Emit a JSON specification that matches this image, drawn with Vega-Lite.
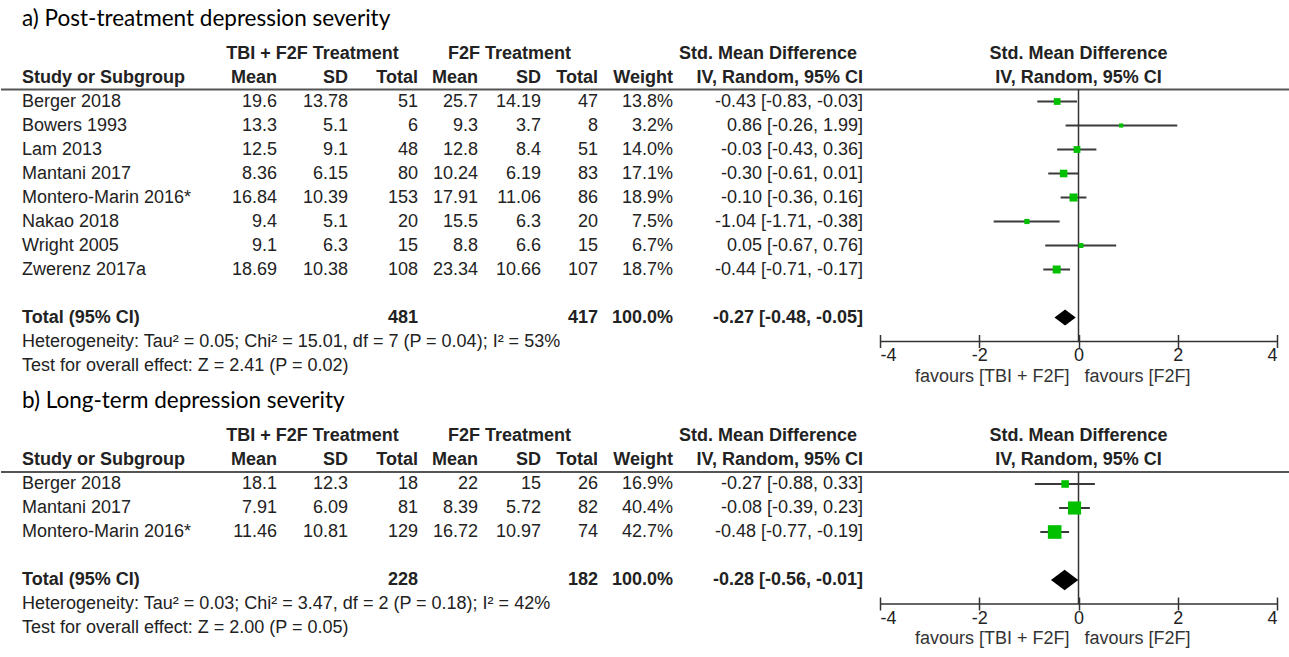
{
  "$schema": "https://vega.github.io/schema/vega-lite/v6.json",
  "background": "white",
  "padding": {"left": 0, "top": 7.5, "right": 0, "bottom": 0},
  "config": {
    "view": {"stroke": null},
    "locale": {"number": {"decimal": ".", "thousands": ",", "grouping": [3], "currency": ["$", ""], "minus": "-"}},
    "text": {"font": "Liberation Sans", "fontSize": 18, "color": "#222", "baseline": "middle"}
  },
  "datasets": {
    "postTreatment": [
      {"study": "Berger 2018", "m1": 19.6, "sd1": 13.78, "n1": 51, "m2": 25.7, "sd2": 14.19, "n2": 47, "weight": 13.8, "smd": -0.43, "lo": -0.83, "hi": -0.03},
      {"study": "Bowers 1993", "m1": 13.3, "sd1": 5.1, "n1": 6, "m2": 9.3, "sd2": 3.7, "n2": 8, "weight": 3.2, "smd": 0.86, "lo": -0.26, "hi": 1.99},
      {"study": "Lam 2013", "m1": 12.5, "sd1": 9.1, "n1": 48, "m2": 12.8, "sd2": 8.4, "n2": 51, "weight": 14.0, "smd": -0.03, "lo": -0.43, "hi": 0.36},
      {"study": "Mantani 2017", "m1": 8.36, "sd1": 6.15, "n1": 80, "m2": 10.24, "sd2": 6.19, "n2": 83, "weight": 17.1, "smd": -0.30, "lo": -0.61, "hi": 0.01},
      {"study": "Montero-Marin 2016*", "m1": 16.84, "sd1": 10.39, "n1": 153, "m2": 17.91, "sd2": 11.06, "n2": 86, "weight": 18.9, "smd": -0.10, "lo": -0.36, "hi": 0.16},
      {"study": "Nakao 2018", "m1": 9.4, "sd1": 5.1, "n1": 20, "m2": 15.5, "sd2": 6.3, "n2": 20, "weight": 7.5, "smd": -1.04, "lo": -1.71, "hi": -0.38},
      {"study": "Wright 2005", "m1": 9.1, "sd1": 6.3, "n1": 15, "m2": 8.8, "sd2": 6.6, "n2": 15, "weight": 6.7, "smd": 0.05, "lo": -0.67, "hi": 0.76},
      {"study": "Zwerenz 2017a", "m1": 18.69, "sd1": 10.38, "n1": 108, "m2": 23.34, "sd2": 10.66, "n2": 107, "weight": 18.7, "smd": -0.44, "lo": -0.71, "hi": -0.17}
    ],
    "postTreatmentTotal": [
      {"study": "Total (95% CI)", "n1": 481, "n2": 417, "weight": 100, "smd": -0.27, "lo": -0.48, "hi": -0.05,
       "heterogeneity": "Heterogeneity: Tau² = 0.05; Chi² = 15.01, df = 7 (P = 0.04); I² = 53%",
       "overall": "Test for overall effect: Z = 2.41 (P = 0.02)"}
    ],
    "longTerm": [
      {"study": "Berger 2018", "m1": 18.1, "sd1": 12.3, "n1": 18, "m2": 22, "sd2": 15, "n2": 26, "weight": 16.9, "smd": -0.27, "lo": -0.88, "hi": 0.33},
      {"study": "Mantani 2017", "m1": 7.91, "sd1": 6.09, "n1": 81, "m2": 8.39, "sd2": 5.72, "n2": 82, "weight": 40.4, "smd": -0.08, "lo": -0.39, "hi": 0.23},
      {"study": "Montero-Marin 2016*", "m1": 11.46, "sd1": 10.81, "n1": 129, "m2": 16.72, "sd2": 10.97, "n2": 74, "weight": 42.7, "smd": -0.48, "lo": -0.77, "hi": -0.19}
    ],
    "longTermTotal": [
      {"study": "Total (95% CI)", "n1": 228, "n2": 182, "weight": 100, "smd": -0.28, "lo": -0.56, "hi": -0.01,
       "heterogeneity": "Heterogeneity: Tau² = 0.03; Chi² = 3.47, df = 2 (P = 0.18); I² = 42%",
       "overall": "Test for overall effect: Z = 2.00 (P = 0.05)"}
    ]
  },
  "bounds": "full",
  "spacing": 4.5,
  "resolve": {"scale": {"x": "independent", "y": "independent", "size": "independent"}},
  "vconcat": [
    {
      "bounds": "flush",
      "spacing": 0,
      "resolve": {"scale": {"y": "shared"}},
      "hconcat": [
        {
          "width": 200, "height": 312,
          "data": {"name": "postTreatment"},
          "encoding": {"y": {"field": "study", "type": "nominal", "axis": null,
            "scale": {"type": "point", "padding": 0, "domain": ["hdr1", "hdr2", "Berger 2018", "Bowers 1993", "Lam 2013", "Mantani 2017", "Montero-Marin 2016*", "Nakao 2018", "Wright 2005", "Zwerenz 2017a", "gap", "Total (95% CI)", "Heterogeneity", "Overall effect"]}}},
          "layer": [
            {"data": {"name": "postTreatmentTotal"}, "mark": {"type": "text", "align": "left", "dx": 21, "dy": -35, "font": "Lato", "fontSize": 22.5, "color": "#000"},
             "encoding": {"x": {"value": 0}, "y": {"datum": "hdr1", "type": "nominal"}, "text": {"value": "a) Post-treatment depression severity"}}},
            {"data": {"name": "postTreatmentTotal"}, "mark": {"type": "text", "align": "left", "dx": 21, "fontWeight": "bold"},
             "encoding": {"x": {"value": 0}, "y": {"datum": "hdr2", "type": "nominal"}, "text": {"value": "Study or Subgroup"}}},
            {"data": {"name": "postTreatmentTotal"}, "mark": {"type": "rule", "color": "#555", "strokeWidth": 2, "yOffset": 12},
             "encoding": {"x": {"value": 0}, "x2": {"value": "width"}, "y": {"datum": "hdr2", "type": "nominal"}}},
            {"mark": {"type": "text", "align": "left", "dx": 21},
             "encoding": {"x": {"value": 0}, "text": {"field": "study"}}},
            {"data": {"name": "postTreatmentTotal"}, "mark": {"type": "text", "align": "left", "dx": 21, "fontWeight": "bold"},
             "encoding": {"x": {"value": 0}, "text": {"field": "study"}}},
            {"data": {"name": "postTreatmentTotal"}, "mark": {"type": "text", "align": "left", "dx": 21},
             "encoding": {"x": {"value": 0}, "y": {"datum": "Heterogeneity", "type": "nominal"}, "text": {"field": "heterogeneity"}}},
            {"data": {"name": "postTreatmentTotal"}, "mark": {"type": "text", "align": "left", "dx": 21},
             "encoding": {"x": {"value": 0}, "y": {"datum": "Overall effect", "type": "nominal"}, "text": {"field": "overall"}}}
          ]
        },
        {
          "width": 76, "height": 312,
          "data": {"name": "postTreatment"},
          "encoding": {"y": {"field": "study", "type": "nominal", "axis": null}},
          "layer": [
            {"data": {"name": "postTreatmentTotal"}, "mark": {"type": "text", "align": "right", "fontWeight": "bold"},
             "encoding": {"x": {"value": "width"}, "y": {"datum": "hdr2", "type": "nominal"}, "text": {"value": "Mean"}}},
            {"data": {"name": "postTreatmentTotal"}, "mark": {"type": "rule", "color": "#555", "strokeWidth": 2, "yOffset": 12},
             "encoding": {"x": {"value": 0}, "x2": {"value": "width"}, "y": {"datum": "hdr2", "type": "nominal"}}},
            {"mark": {"type": "text", "align": "right"},
             "encoding": {"x": {"value": "width"}, "text": {"field": "m1", "type": "quantitative"}}}
          ]
        },
        {
          "width": 71, "height": 312,
          "data": {"name": "postTreatment"},
          "encoding": {"y": {"field": "study", "type": "nominal", "axis": null}},
          "layer": [
            {"data": {"name": "postTreatmentTotal"}, "mark": {"type": "text", "align": "center", "fontWeight": "bold"},
             "encoding": {"y": {"datum": "hdr1", "type": "nominal"}, "text": {"value": "TBI + F2F Treatment"}}},
            {"data": {"name": "postTreatmentTotal"}, "mark": {"type": "text", "align": "right", "fontWeight": "bold"},
             "encoding": {"x": {"value": "width"}, "y": {"datum": "hdr2", "type": "nominal"}, "text": {"value": "SD"}}},
            {"data": {"name": "postTreatmentTotal"}, "mark": {"type": "rule", "color": "#555", "strokeWidth": 2, "yOffset": 12},
             "encoding": {"x": {"value": 0}, "x2": {"value": "width"}, "y": {"datum": "hdr2", "type": "nominal"}}},
            {"mark": {"type": "text", "align": "right"},
             "encoding": {"x": {"value": "width"}, "text": {"field": "sd1", "type": "quantitative"}}}
          ]
        },
        {
          "width": 70, "height": 312,
          "data": {"name": "postTreatment"},
          "encoding": {"y": {"field": "study", "type": "nominal", "axis": null}},
          "layer": [
            {"data": {"name": "postTreatmentTotal"}, "mark": {"type": "text", "align": "right", "fontWeight": "bold"},
             "encoding": {"x": {"value": "width"}, "y": {"datum": "hdr2", "type": "nominal"}, "text": {"value": "Total"}}},
            {"data": {"name": "postTreatmentTotal"}, "mark": {"type": "rule", "color": "#555", "strokeWidth": 2, "yOffset": 12},
             "encoding": {"x": {"value": 0}, "x2": {"value": "width"}, "y": {"datum": "hdr2", "type": "nominal"}}},
            {"mark": {"type": "text", "align": "right"},
             "encoding": {"x": {"value": "width"}, "text": {"field": "n1", "type": "quantitative"}}},
            {"data": {"name": "postTreatmentTotal"}, "mark": {"type": "text", "align": "right", "fontWeight": "bold"},
             "encoding": {"x": {"value": "width"}, "text": {"field": "n1", "type": "quantitative"}}}
          ]
        },
        {
          "width": 60, "height": 312,
          "data": {"name": "postTreatment"},
          "encoding": {"y": {"field": "study", "type": "nominal", "axis": null}},
          "layer": [
            {"data": {"name": "postTreatmentTotal"}, "mark": {"type": "text", "align": "right", "fontWeight": "bold"},
             "encoding": {"x": {"value": "width"}, "y": {"datum": "hdr2", "type": "nominal"}, "text": {"value": "Mean"}}},
            {"data": {"name": "postTreatmentTotal"}, "mark": {"type": "rule", "color": "#555", "strokeWidth": 2, "yOffset": 12},
             "encoding": {"x": {"value": 0}, "x2": {"value": "width"}, "y": {"datum": "hdr2", "type": "nominal"}}},
            {"mark": {"type": "text", "align": "right"},
             "encoding": {"x": {"value": "width"}, "text": {"field": "m2", "type": "quantitative"}}}
          ]
        },
        {
          "width": 63, "height": 312,
          "data": {"name": "postTreatment"},
          "encoding": {"y": {"field": "study", "type": "nominal", "axis": null}},
          "layer": [
            {"data": {"name": "postTreatmentTotal"}, "mark": {"type": "text", "align": "center", "fontWeight": "bold"},
             "encoding": {"y": {"datum": "hdr1", "type": "nominal"}, "text": {"value": "F2F Treatment"}}},
            {"data": {"name": "postTreatmentTotal"}, "mark": {"type": "text", "align": "right", "fontWeight": "bold"},
             "encoding": {"x": {"value": "width"}, "y": {"datum": "hdr2", "type": "nominal"}, "text": {"value": "SD"}}},
            {"data": {"name": "postTreatmentTotal"}, "mark": {"type": "rule", "color": "#555", "strokeWidth": 2, "yOffset": 12},
             "encoding": {"x": {"value": 0}, "x2": {"value": "width"}, "y": {"datum": "hdr2", "type": "nominal"}}},
            {"mark": {"type": "text", "align": "right"},
             "encoding": {"x": {"value": "width"}, "text": {"field": "sd2", "type": "quantitative"}}}
          ]
        },
        {
          "width": 57, "height": 312,
          "data": {"name": "postTreatment"},
          "encoding": {"y": {"field": "study", "type": "nominal", "axis": null}},
          "layer": [
            {"data": {"name": "postTreatmentTotal"}, "mark": {"type": "text", "align": "right", "fontWeight": "bold"},
             "encoding": {"x": {"value": "width"}, "y": {"datum": "hdr2", "type": "nominal"}, "text": {"value": "Total"}}},
            {"data": {"name": "postTreatmentTotal"}, "mark": {"type": "rule", "color": "#555", "strokeWidth": 2, "yOffset": 12},
             "encoding": {"x": {"value": 0}, "x2": {"value": "width"}, "y": {"datum": "hdr2", "type": "nominal"}}},
            {"mark": {"type": "text", "align": "right"},
             "encoding": {"x": {"value": "width"}, "text": {"field": "n2", "type": "quantitative"}}},
            {"data": {"name": "postTreatmentTotal"}, "mark": {"type": "text", "align": "right", "fontWeight": "bold"},
             "encoding": {"x": {"value": "width"}, "text": {"field": "n2", "type": "quantitative"}}}
          ]
        },
        {
          "width": 75, "height": 312,
          "data": {"name": "postTreatment"},
          "encoding": {"y": {"field": "study", "type": "nominal", "axis": null}},
          "layer": [
            {"data": {"name": "postTreatmentTotal"}, "mark": {"type": "text", "align": "right", "fontWeight": "bold"},
             "encoding": {"x": {"value": "width"}, "y": {"datum": "hdr2", "type": "nominal"}, "text": {"value": "Weight"}}},
            {"data": {"name": "postTreatmentTotal"}, "mark": {"type": "rule", "color": "#555", "strokeWidth": 2, "yOffset": 12},
             "encoding": {"x": {"value": 0}, "x2": {"value": "width"}, "y": {"datum": "hdr2", "type": "nominal"}}},
            {"transform": [{"calculate": "format(datum.weight, '.1f') + '%'", "as": "weightLabel"}],
             "mark": {"type": "text", "align": "right"},
             "encoding": {"x": {"value": "width"}, "text": {"field": "weightLabel"}}},
            {"data": {"name": "postTreatmentTotal"},
             "transform": [{"calculate": "format(datum.weight, '.1f') + '%'", "as": "weightLabel"}],
             "mark": {"type": "text", "align": "right", "fontWeight": "bold"},
             "encoding": {"x": {"value": "width"}, "text": {"field": "weightLabel"}}}
          ]
        },
        {
          "width": 190, "height": 312,
          "data": {"name": "postTreatment"},
          "encoding": {"y": {"field": "study", "type": "nominal", "axis": null}},
          "layer": [
            {"data": {"name": "postTreatmentTotal"}, "mark": {"type": "text", "align": "center", "fontWeight": "bold"},
             "encoding": {"y": {"datum": "hdr1", "type": "nominal"}, "text": {"value": "Std. Mean Difference"}}},
            {"data": {"name": "postTreatmentTotal"}, "mark": {"type": "text", "align": "right", "fontWeight": "bold"},
             "encoding": {"x": {"value": "width"}, "y": {"datum": "hdr2", "type": "nominal"}, "text": {"value": "IV, Random, 95% CI"}}},
            {"data": {"name": "postTreatmentTotal"}, "mark": {"type": "rule", "color": "#555", "strokeWidth": 2, "yOffset": 12},
             "encoding": {"x": {"value": 0}, "x2": {"value": "width"}, "y": {"datum": "hdr2", "type": "nominal"}}},
            {"transform": [{"calculate": "format(datum.smd, '.2f') + ' [' + format(datum.lo, '.2f') + ', ' + format(datum.hi, '.2f') + ']'", "as": "ciLabel"}],
             "mark": {"type": "text", "align": "right"},
             "encoding": {"x": {"value": "width"}, "text": {"field": "ciLabel"}}},
            {"data": {"name": "postTreatmentTotal"},
             "transform": [{"calculate": "format(datum.smd, '.2f') + ' [' + format(datum.lo, '.2f') + ', ' + format(datum.hi, '.2f') + ']'", "as": "ciLabel"}],
             "mark": {"type": "text", "align": "right", "fontWeight": "bold"},
             "encoding": {"x": {"value": "width"}, "text": {"field": "ciLabel"}}}
          ]
        },
        {
          "width": 17, "height": 312,
          "data": {"name": "postTreatmentTotal"},
          "mark": {"type": "rule", "color": "#555", "strokeWidth": 2, "yOffset": 12},
          "encoding": {"x": {"value": 0}, "x2": {"value": "width"}, "y": {"datum": "hdr2", "type": "nominal", "axis": null}}
        },
        {
          "width": 397, "height": 312,
          "data": {"name": "postTreatment"},
          "encoding": {"y": {"field": "study", "type": "nominal", "axis": null}},
          "layer": [
            {"data": {"name": "postTreatmentTotal"}, "mark": {"type": "text", "align": "center", "fontWeight": "bold"},
             "encoding": {"y": {"datum": "hdr1", "type": "nominal"}, "text": {"value": "Std. Mean Difference"}}},
            {"data": {"name": "postTreatmentTotal"}, "mark": {"type": "text", "align": "center", "fontWeight": "bold"},
             "encoding": {"y": {"datum": "hdr2", "type": "nominal"}, "text": {"value": "IV, Random, 95% CI"}}},
            {"data": {"name": "postTreatmentTotal"}, "mark": {"type": "rule", "color": "#555", "strokeWidth": 2, "yOffset": 12},
             "encoding": {"x": {"value": 0}, "x2": {"value": "width"}, "y": {"datum": "hdr2", "type": "nominal"}}},
            {"mark": {"type": "rule", "color": "#3a3a3a", "strokeWidth": 2},
             "encoding": {
               "x": {"field": "lo", "type": "quantitative",
                     "scale": {"domain": [-4, 4], "nice": false, "zero": false},
                     "axis": {"values": [-4, -2, 0, 2, 4], "domain": false, "grid": false, "title": null,
                              "tickSize": 13, "tickWidth": 1.5, "tickColor": "#333", "offset": -31,
                              "labelFont": "Liberation Sans", "labelFontSize": 18, "labelColor": "#222",
                              "labelPadding": -1, "labelFlush": true}},
               "x2": {"field": "hi"}}},
            {"data": {"name": "postTreatmentTotal"}, "mark": {"type": "rule", "color": "#333", "strokeWidth": 1.5, "yOffset": 12},
             "encoding": {"x": {"datum": 0}, "y": {"datum": "hdr2", "type": "nominal"}, "y2": {"datum": "Heterogeneity"}}},
            {"data": {"name": "postTreatmentTotal"}, "mark": {"type": "rule", "color": "#333", "strokeWidth": 1.5},
             "encoding": {"x": {"datum": -4}, "x2": {"datum": 4}, "y": {"datum": "Heterogeneity", "type": "nominal"}}},
            {"mark": {"type": "square", "filled": true, "color": "#00c000", "opacity": 1},
             "encoding": {"x": {"field": "smd", "type": "quantitative"},
                          "size": {"field": "weight", "type": "quantitative", "legend": null,
                                   "scale": {"type": "pow", "exponent": 1.5, "domain": [0, 45], "range": [14, 200]}}}},
            {"data": {"name": "postTreatmentTotal"},
             "mark": {"type": "point", "shape": "M-1,0L0,-0.75L1,0L0,0.75Z", "filled": true, "color": "#000", "opacity": 1, "size": 454},
             "encoding": {"x": {"field": "smd", "type": "quantitative"}}},
            {"data": {"name": "postTreatmentTotal"}, "mark": {"type": "text", "align": "right", "dx": -9, "dy": 35, "color": "#333"},
             "encoding": {"x": {"datum": 0}, "y": {"datum": "Heterogeneity", "type": "nominal"}, "text": {"value": "favours [TBI + F2F]"}}},
            {"data": {"name": "postTreatmentTotal"}, "mark": {"type": "text", "align": "left", "dx": 6, "dy": 35, "color": "#333"},
             "encoding": {"x": {"datum": 0}, "y": {"datum": "Heterogeneity", "type": "nominal"}, "text": {"value": "favours [F2F]"}}}
          ]
        },
        {
          "width": 13, "height": 312,
          "data": {"name": "postTreatmentTotal"},
          "mark": {"type": "rule", "color": "#555", "strokeWidth": 2, "yOffset": 12},
          "encoding": {"x": {"value": 0}, "x2": {"value": "width"}, "y": {"datum": "hdr2", "type": "nominal", "axis": null}}
        }
      ]
    },
    {
      "bounds": "flush",
      "spacing": 0,
      "resolve": {"scale": {"y": "shared"}},
      "hconcat": [
        {
          "width": 200, "height": 192,
          "data": {"name": "longTerm"},
          "encoding": {"y": {"field": "study", "type": "nominal", "axis": null,
            "scale": {"type": "point", "padding": 0, "domain": ["hdr1", "hdr2", "Berger 2018", "Mantani 2017", "Montero-Marin 2016*", "gap", "Total (95% CI)", "Heterogeneity", "Overall effect"]}}},
          "layer": [
            {"data": {"name": "longTermTotal"}, "mark": {"type": "text", "align": "left", "dx": 21, "dy": -35, "font": "Lato", "fontSize": 22.5, "color": "#000"},
             "encoding": {"x": {"value": 0}, "y": {"datum": "hdr1", "type": "nominal"}, "text": {"value": "b) Long-term depression severity"}}},
            {"data": {"name": "longTermTotal"}, "mark": {"type": "text", "align": "left", "dx": 21, "fontWeight": "bold"},
             "encoding": {"x": {"value": 0}, "y": {"datum": "hdr2", "type": "nominal"}, "text": {"value": "Study or Subgroup"}}},
            {"data": {"name": "longTermTotal"}, "mark": {"type": "rule", "color": "#555", "strokeWidth": 2, "yOffset": 12},
             "encoding": {"x": {"value": 0}, "x2": {"value": "width"}, "y": {"datum": "hdr2", "type": "nominal"}}},
            {"mark": {"type": "text", "align": "left", "dx": 21},
             "encoding": {"x": {"value": 0}, "text": {"field": "study"}}},
            {"data": {"name": "longTermTotal"}, "mark": {"type": "text", "align": "left", "dx": 21, "fontWeight": "bold"},
             "encoding": {"x": {"value": 0}, "text": {"field": "study"}}},
            {"data": {"name": "longTermTotal"}, "mark": {"type": "text", "align": "left", "dx": 21},
             "encoding": {"x": {"value": 0}, "y": {"datum": "Heterogeneity", "type": "nominal"}, "text": {"field": "heterogeneity"}}},
            {"data": {"name": "longTermTotal"}, "mark": {"type": "text", "align": "left", "dx": 21},
             "encoding": {"x": {"value": 0}, "y": {"datum": "Overall effect", "type": "nominal"}, "text": {"field": "overall"}}}
          ]
        },
        {
          "width": 76, "height": 192,
          "data": {"name": "longTerm"},
          "encoding": {"y": {"field": "study", "type": "nominal", "axis": null}},
          "layer": [
            {"data": {"name": "longTermTotal"}, "mark": {"type": "text", "align": "right", "fontWeight": "bold"},
             "encoding": {"x": {"value": "width"}, "y": {"datum": "hdr2", "type": "nominal"}, "text": {"value": "Mean"}}},
            {"data": {"name": "longTermTotal"}, "mark": {"type": "rule", "color": "#555", "strokeWidth": 2, "yOffset": 12},
             "encoding": {"x": {"value": 0}, "x2": {"value": "width"}, "y": {"datum": "hdr2", "type": "nominal"}}},
            {"mark": {"type": "text", "align": "right"},
             "encoding": {"x": {"value": "width"}, "text": {"field": "m1", "type": "quantitative"}}}
          ]
        },
        {
          "width": 71, "height": 192,
          "data": {"name": "longTerm"},
          "encoding": {"y": {"field": "study", "type": "nominal", "axis": null}},
          "layer": [
            {"data": {"name": "longTermTotal"}, "mark": {"type": "text", "align": "center", "fontWeight": "bold"},
             "encoding": {"y": {"datum": "hdr1", "type": "nominal"}, "text": {"value": "TBI + F2F Treatment"}}},
            {"data": {"name": "longTermTotal"}, "mark": {"type": "text", "align": "right", "fontWeight": "bold"},
             "encoding": {"x": {"value": "width"}, "y": {"datum": "hdr2", "type": "nominal"}, "text": {"value": "SD"}}},
            {"data": {"name": "longTermTotal"}, "mark": {"type": "rule", "color": "#555", "strokeWidth": 2, "yOffset": 12},
             "encoding": {"x": {"value": 0}, "x2": {"value": "width"}, "y": {"datum": "hdr2", "type": "nominal"}}},
            {"mark": {"type": "text", "align": "right"},
             "encoding": {"x": {"value": "width"}, "text": {"field": "sd1", "type": "quantitative"}}}
          ]
        },
        {
          "width": 70, "height": 192,
          "data": {"name": "longTerm"},
          "encoding": {"y": {"field": "study", "type": "nominal", "axis": null}},
          "layer": [
            {"data": {"name": "longTermTotal"}, "mark": {"type": "text", "align": "right", "fontWeight": "bold"},
             "encoding": {"x": {"value": "width"}, "y": {"datum": "hdr2", "type": "nominal"}, "text": {"value": "Total"}}},
            {"data": {"name": "longTermTotal"}, "mark": {"type": "rule", "color": "#555", "strokeWidth": 2, "yOffset": 12},
             "encoding": {"x": {"value": 0}, "x2": {"value": "width"}, "y": {"datum": "hdr2", "type": "nominal"}}},
            {"mark": {"type": "text", "align": "right"},
             "encoding": {"x": {"value": "width"}, "text": {"field": "n1", "type": "quantitative"}}},
            {"data": {"name": "longTermTotal"}, "mark": {"type": "text", "align": "right", "fontWeight": "bold"},
             "encoding": {"x": {"value": "width"}, "text": {"field": "n1", "type": "quantitative"}}}
          ]
        },
        {
          "width": 60, "height": 192,
          "data": {"name": "longTerm"},
          "encoding": {"y": {"field": "study", "type": "nominal", "axis": null}},
          "layer": [
            {"data": {"name": "longTermTotal"}, "mark": {"type": "text", "align": "right", "fontWeight": "bold"},
             "encoding": {"x": {"value": "width"}, "y": {"datum": "hdr2", "type": "nominal"}, "text": {"value": "Mean"}}},
            {"data": {"name": "longTermTotal"}, "mark": {"type": "rule", "color": "#555", "strokeWidth": 2, "yOffset": 12},
             "encoding": {"x": {"value": 0}, "x2": {"value": "width"}, "y": {"datum": "hdr2", "type": "nominal"}}},
            {"mark": {"type": "text", "align": "right"},
             "encoding": {"x": {"value": "width"}, "text": {"field": "m2", "type": "quantitative"}}}
          ]
        },
        {
          "width": 63, "height": 192,
          "data": {"name": "longTerm"},
          "encoding": {"y": {"field": "study", "type": "nominal", "axis": null}},
          "layer": [
            {"data": {"name": "longTermTotal"}, "mark": {"type": "text", "align": "center", "fontWeight": "bold"},
             "encoding": {"y": {"datum": "hdr1", "type": "nominal"}, "text": {"value": "F2F Treatment"}}},
            {"data": {"name": "longTermTotal"}, "mark": {"type": "text", "align": "right", "fontWeight": "bold"},
             "encoding": {"x": {"value": "width"}, "y": {"datum": "hdr2", "type": "nominal"}, "text": {"value": "SD"}}},
            {"data": {"name": "longTermTotal"}, "mark": {"type": "rule", "color": "#555", "strokeWidth": 2, "yOffset": 12},
             "encoding": {"x": {"value": 0}, "x2": {"value": "width"}, "y": {"datum": "hdr2", "type": "nominal"}}},
            {"mark": {"type": "text", "align": "right"},
             "encoding": {"x": {"value": "width"}, "text": {"field": "sd2", "type": "quantitative"}}}
          ]
        },
        {
          "width": 57, "height": 192,
          "data": {"name": "longTerm"},
          "encoding": {"y": {"field": "study", "type": "nominal", "axis": null}},
          "layer": [
            {"data": {"name": "longTermTotal"}, "mark": {"type": "text", "align": "right", "fontWeight": "bold"},
             "encoding": {"x": {"value": "width"}, "y": {"datum": "hdr2", "type": "nominal"}, "text": {"value": "Total"}}},
            {"data": {"name": "longTermTotal"}, "mark": {"type": "rule", "color": "#555", "strokeWidth": 2, "yOffset": 12},
             "encoding": {"x": {"value": 0}, "x2": {"value": "width"}, "y": {"datum": "hdr2", "type": "nominal"}}},
            {"mark": {"type": "text", "align": "right"},
             "encoding": {"x": {"value": "width"}, "text": {"field": "n2", "type": "quantitative"}}},
            {"data": {"name": "longTermTotal"}, "mark": {"type": "text", "align": "right", "fontWeight": "bold"},
             "encoding": {"x": {"value": "width"}, "text": {"field": "n2", "type": "quantitative"}}}
          ]
        },
        {
          "width": 75, "height": 192,
          "data": {"name": "longTerm"},
          "encoding": {"y": {"field": "study", "type": "nominal", "axis": null}},
          "layer": [
            {"data": {"name": "longTermTotal"}, "mark": {"type": "text", "align": "right", "fontWeight": "bold"},
             "encoding": {"x": {"value": "width"}, "y": {"datum": "hdr2", "type": "nominal"}, "text": {"value": "Weight"}}},
            {"data": {"name": "longTermTotal"}, "mark": {"type": "rule", "color": "#555", "strokeWidth": 2, "yOffset": 12},
             "encoding": {"x": {"value": 0}, "x2": {"value": "width"}, "y": {"datum": "hdr2", "type": "nominal"}}},
            {"transform": [{"calculate": "format(datum.weight, '.1f') + '%'", "as": "weightLabel"}],
             "mark": {"type": "text", "align": "right"},
             "encoding": {"x": {"value": "width"}, "text": {"field": "weightLabel"}}},
            {"data": {"name": "longTermTotal"},
             "transform": [{"calculate": "format(datum.weight, '.1f') + '%'", "as": "weightLabel"}],
             "mark": {"type": "text", "align": "right", "fontWeight": "bold"},
             "encoding": {"x": {"value": "width"}, "text": {"field": "weightLabel"}}}
          ]
        },
        {
          "width": 190, "height": 192,
          "data": {"name": "longTerm"},
          "encoding": {"y": {"field": "study", "type": "nominal", "axis": null}},
          "layer": [
            {"data": {"name": "longTermTotal"}, "mark": {"type": "text", "align": "center", "fontWeight": "bold"},
             "encoding": {"y": {"datum": "hdr1", "type": "nominal"}, "text": {"value": "Std. Mean Difference"}}},
            {"data": {"name": "longTermTotal"}, "mark": {"type": "text", "align": "right", "fontWeight": "bold"},
             "encoding": {"x": {"value": "width"}, "y": {"datum": "hdr2", "type": "nominal"}, "text": {"value": "IV, Random, 95% CI"}}},
            {"data": {"name": "longTermTotal"}, "mark": {"type": "rule", "color": "#555", "strokeWidth": 2, "yOffset": 12},
             "encoding": {"x": {"value": 0}, "x2": {"value": "width"}, "y": {"datum": "hdr2", "type": "nominal"}}},
            {"transform": [{"calculate": "format(datum.smd, '.2f') + ' [' + format(datum.lo, '.2f') + ', ' + format(datum.hi, '.2f') + ']'", "as": "ciLabel"}],
             "mark": {"type": "text", "align": "right"},
             "encoding": {"x": {"value": "width"}, "text": {"field": "ciLabel"}}},
            {"data": {"name": "longTermTotal"},
             "transform": [{"calculate": "format(datum.smd, '.2f') + ' [' + format(datum.lo, '.2f') + ', ' + format(datum.hi, '.2f') + ']'", "as": "ciLabel"}],
             "mark": {"type": "text", "align": "right", "fontWeight": "bold"},
             "encoding": {"x": {"value": "width"}, "text": {"field": "ciLabel"}}}
          ]
        },
        {
          "width": 17, "height": 192,
          "data": {"name": "longTermTotal"},
          "mark": {"type": "rule", "color": "#555", "strokeWidth": 2, "yOffset": 12},
          "encoding": {"x": {"value": 0}, "x2": {"value": "width"}, "y": {"datum": "hdr2", "type": "nominal", "axis": null}}
        },
        {
          "width": 397, "height": 192,
          "data": {"name": "longTerm"},
          "encoding": {"y": {"field": "study", "type": "nominal", "axis": null}},
          "layer": [
            {"data": {"name": "longTermTotal"}, "mark": {"type": "text", "align": "center", "fontWeight": "bold"},
             "encoding": {"y": {"datum": "hdr1", "type": "nominal"}, "text": {"value": "Std. Mean Difference"}}},
            {"data": {"name": "longTermTotal"}, "mark": {"type": "text", "align": "center", "fontWeight": "bold"},
             "encoding": {"y": {"datum": "hdr2", "type": "nominal"}, "text": {"value": "IV, Random, 95% CI"}}},
            {"data": {"name": "longTermTotal"}, "mark": {"type": "rule", "color": "#555", "strokeWidth": 2, "yOffset": 12},
             "encoding": {"x": {"value": 0}, "x2": {"value": "width"}, "y": {"datum": "hdr2", "type": "nominal"}}},
            {"mark": {"type": "rule", "color": "#3a3a3a", "strokeWidth": 2},
             "encoding": {
               "x": {"field": "lo", "type": "quantitative",
                     "scale": {"domain": [-4, 4], "nice": false, "zero": false},
                     "axis": {"values": [-4, -2, 0, 2, 4], "domain": false, "grid": false, "title": null,
                              "tickSize": 13, "tickWidth": 1.5, "tickColor": "#333", "offset": -31,
                              "labelFont": "Liberation Sans", "labelFontSize": 18, "labelColor": "#222",
                              "labelPadding": -1, "labelFlush": true}},
               "x2": {"field": "hi"}}},
            {"data": {"name": "longTermTotal"}, "mark": {"type": "rule", "color": "#333", "strokeWidth": 1.5, "yOffset": 12},
             "encoding": {"x": {"datum": 0}, "y": {"datum": "hdr2", "type": "nominal"}, "y2": {"datum": "Heterogeneity"}}},
            {"data": {"name": "longTermTotal"}, "mark": {"type": "rule", "color": "#333", "strokeWidth": 1.5},
             "encoding": {"x": {"datum": -4}, "x2": {"datum": 4}, "y": {"datum": "Heterogeneity", "type": "nominal"}}},
            {"mark": {"type": "square", "filled": true, "color": "#00c000", "opacity": 1},
             "encoding": {"x": {"field": "smd", "type": "quantitative"},
                          "size": {"field": "weight", "type": "quantitative", "legend": null,
                                   "scale": {"type": "pow", "exponent": 1.5, "domain": [0, 45], "range": [14, 200]}}}},
            {"data": {"name": "longTermTotal"},
             "mark": {"type": "point", "shape": "M-1,0L0,-0.75L1,0L0,0.75Z", "filled": true, "color": "#000", "opacity": 1, "size": 745},
             "encoding": {"x": {"field": "smd", "type": "quantitative"}}},
            {"data": {"name": "longTermTotal"}, "mark": {"type": "text", "align": "right", "dx": -9, "dy": 35, "color": "#333"},
             "encoding": {"x": {"datum": 0}, "y": {"datum": "Heterogeneity", "type": "nominal"}, "text": {"value": "favours [TBI + F2F]"}}},
            {"data": {"name": "longTermTotal"}, "mark": {"type": "text", "align": "left", "dx": 6, "dy": 35, "color": "#333"},
             "encoding": {"x": {"datum": 0}, "y": {"datum": "Heterogeneity", "type": "nominal"}, "text": {"value": "favours [F2F]"}}}
          ]
        },
        {
          "width": 13, "height": 192,
          "data": {"name": "longTermTotal"},
          "mark": {"type": "rule", "color": "#555", "strokeWidth": 2, "yOffset": 12},
          "encoding": {"x": {"value": 0}, "x2": {"value": "width"}, "y": {"datum": "hdr2", "type": "nominal", "axis": null}}
        }
      ]
    }
  ]
}
